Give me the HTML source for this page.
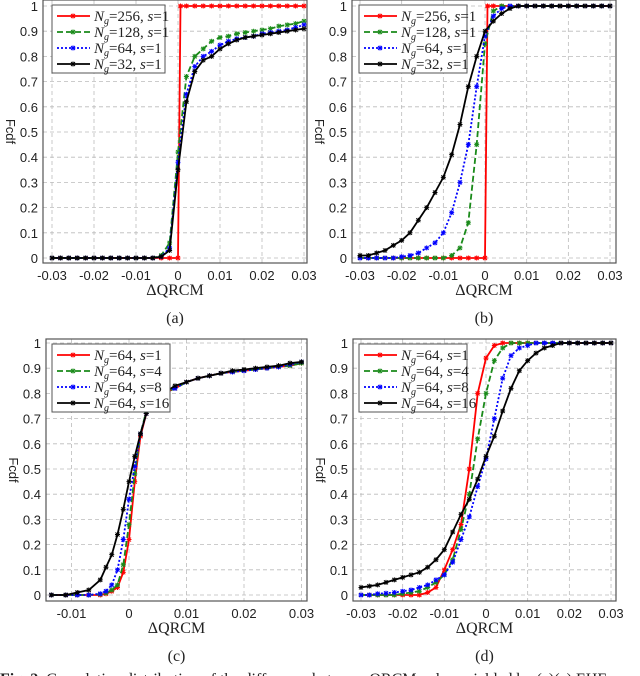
<!DOCTYPE html>
<html><head><meta charset="utf-8"><style>
body{margin:0;background:#fff;width:640px;height:676px;overflow:hidden}
svg{display:block}
.tk{font:13px "Liberation Sans",sans-serif;fill:#222}
.sf{font-family:"Liberation Serif",serif;fill:#222}
</style></head><body>
<svg id="fig" width="640" height="676" viewBox="0 0 640 676" xmlns="http://www.w3.org/2000/svg"></svg>
<script>
// ---- data ----
const gridX = [-0.03,-0.028,-0.026,-0.024,-0.022,-0.02,-0.018,-0.016,-0.014,-0.012,-0.01,-0.008,-0.006,-0.004,-0.002,0,0.002,0.004,0.006,0.008,0.01,0.012,0.014,0.016,0.018,0.02,0.022,0.024,0.026,0.028,0.03];
const stepX = [-0.03,-0.028,-0.026,-0.024,-0.022,-0.02,-0.018,-0.016,-0.014,-0.012,-0.01,-0.008,-0.006,-0.004,-0.002,0,0.0006,0.002,0.004,0.006,0.008,0.01,0.012,0.014,0.016,0.018,0.02,0.022,0.024,0.026,0.028,0.03];
const stepY = [0,0,0,0,0,0,0,0,0,0,0,0,0,0,0,0,1,1,1,1,1,1,1,1,1,1,1,1,1,1,1,1];
const a128 = [0,0,0,0,0,0,0,0,0,0,0,0,0,0.01,0.06,0.42,0.72,0.80,0.83,0.86,0.875,0.88,0.89,0.895,0.9,0.905,0.91,0.92,0.925,0.93,0.94];
const a64  = [0,0,0,0,0,0,0,0,0,0,0,0,0,0.005,0.04,0.38,0.65,0.76,0.80,0.82,0.845,0.86,0.87,0.875,0.88,0.89,0.895,0.9,0.905,0.915,0.925];
const a32  = [0,0,0,0,0,0,0,0,0,0,0,0,0,0.005,0.03,0.35,0.62,0.74,0.785,0.80,0.83,0.85,0.865,0.875,0.88,0.885,0.89,0.895,0.9,0.905,0.91];
const b128 = [0,0,0,0,0,0,0,0,0,0,0,0.01,0.04,0.14,0.45,0.85,0.98,1,1,1,1,1,1,1,1,1,1,1,1,1,1];
const b64  = [0,0,0,0,0,0.005,0.01,0.02,0.04,0.06,0.10,0.18,0.30,0.45,0.68,0.88,0.96,0.99,1,1,1,1,1,1,1,1,1,1,1,1,1];
const b32  = [0.01,0.01,0.02,0.03,0.05,0.07,0.10,0.15,0.20,0.26,0.32,0.41,0.53,0.68,0.80,0.90,0.94,0.97,0.99,1,1,1,1,1,1,1,1,1,1,1,1];
const cX   = [-0.0135,-0.011,-0.009,-0.007,-0.005,-0.004,-0.003,-0.002,-0.001,0,0.001,0.002,0.003,0.004,0.006,0.008,0.010,0.012,0.014,0.016,0.018,0.020,0.022,0.024,0.026,0.028,0.030];
const c1   = [0,0,0,0,0,0.005,0.015,0.03,0.09,0.22,0.45,0.63,0.72,0.77,0.80,0.82,0.845,0.86,0.87,0.88,0.885,0.89,0.895,0.90,0.905,0.91,0.92];
const c4   = [0,0,0,0,0.003,0.008,0.02,0.04,0.12,0.28,0.48,0.64,0.73,0.77,0.80,0.82,0.845,0.86,0.87,0.88,0.885,0.89,0.895,0.90,0.905,0.91,0.92];
const c8   = [0,0,0,0,0.005,0.015,0.04,0.10,0.22,0.38,0.51,0.64,0.72,0.77,0.80,0.82,0.845,0.86,0.87,0.88,0.885,0.89,0.895,0.90,0.905,0.915,0.925];
const c16  = [0,0,0.01,0.02,0.06,0.11,0.16,0.24,0.34,0.45,0.55,0.64,0.72,0.77,0.80,0.83,0.845,0.86,0.87,0.88,0.89,0.895,0.90,0.905,0.91,0.92,0.925];
const d1   = [0,0,0,0,0,0,0,0,0.01,0.03,0.10,0.18,0.28,0.50,0.80,0.94,0.99,1,1,1,1,1,1,1,1,1,1,1,1,1,1];
const d4   = [0,0,0,0,0,0.005,0.01,0.015,0.03,0.05,0.08,0.14,0.26,0.40,0.62,0.80,0.93,0.98,1,1,1,1,1,1,1,1,1,1,1,1,1];
const d8   = [0,0,0.005,0.007,0.01,0.015,0.02,0.03,0.04,0.06,0.08,0.13,0.22,0.31,0.43,0.54,0.70,0.86,0.95,0.98,0.99,1,1,1,1,1,1,1,1,1,1];
const d16  = [0.03,0.035,0.04,0.05,0.06,0.07,0.08,0.09,0.11,0.14,0.18,0.25,0.32,0.38,0.46,0.55,0.63,0.73,0.82,0.89,0.93,0.96,0.98,0.99,1,1,1,1,1,1,1];
const yTicks = [0,0.1,0.2,0.3,0.4,0.5,0.6,0.7,0.8,0.9,1];
const xTicksAB = [-0.03,-0.02,-0.01,0,0.01,0.02,0.03];
const xTicksC = [-0.01,0,0.01,0.02,0.03];
const legAB = ["=256, ","=128, ","=64, ","=32, "];
const legSAB = ["1","1","1","1"];
const legCD = ["=64, ","=64, ","=64, ","=64, "];
const legSCD = ["1","4","8","16"];

const NS="http://www.w3.org/2000/svg";
const svg=document.getElementById('fig');
function mk(tag,attrs,parent){const e=document.createElementNS(NS,tag);for(const k in attrs)e.setAttribute(k,attrs[k]);(parent||svg).appendChild(e);return e;}
const styles=[{c:'#ff0000',d:''},{c:'#1a8a1a',d:'6,3'},{c:'#0000ff',d:'2,2'},{c:'#000000',d:''}];

function panel(P){
  const g=mk('g',{});
  
  
  const X=v=>P.x0+(v-P.v0)*P.k, Y=v=>P.y0-(P.y0-P.y1)*v;
  P.xt.forEach(t=>{const l=mk('line',{x1:X(t),x2:X(t),y1:P.fy0,y2:P.fy1,stroke:'#bbb','stroke-dasharray':'4,3','stroke-width':0.8},g);
    
    const tx=mk('text',{x:X(t),y:P.fy1+17,'text-anchor':'middle',class:'tk'},g);tx.textContent=String(t);
    });
  yTicks.forEach(t=>{const l=mk('line',{x1:P.fx0,x2:P.fx1,y1:Y(t),y2:Y(t),stroke:'#bbb','stroke-dasharray':'4,3','stroke-width':0.8},g);
    
    const tx=mk('text',{x:P.fx0-5,y:Y(t)+5,'text-anchor':'end',class:'tk'},g);tx.textContent=String(t);
    });
  const fr=mk('rect',{x:P.fx0,y:P.fy0,width:P.fx1-P.fx0,height:P.fy1-P.fy0,fill:'none',stroke:'#555','stroke-width':1.2},g);
  
  P.series.forEach((s,i)=>{
    const st=styles[i];
    const pts=s.xs.map((x,j)=>X(x).toFixed(1)+','+Y(s.ys[j]).toFixed(1)).join(' ');
    const pl=mk('polyline',{points:pts,fill:'none',stroke:st.c,'stroke-width':1.8,'stroke-dasharray':st.d},g);
    
    s.xs.forEach((x,j)=>{const cx=X(x),cy=Y(s.ys[j]);
      const m=mk('path',{d:`M${cx-2.5},${cy}h5M${cx},${cy-2.5}v5M${cx-2},${cy-2}l4,4M${cx-2},${cy+2}l4,-4`,stroke:st.c,'stroke-width':1},g);
      });
  });
  const L=P.leg;
  const lb=mk('rect',{x:L.x,y:L.y,width:L.w,height:68,fill:'#fff',stroke:'#555','stroke-width':1},g);
  
  for(let i=0;i<4;i++){const st=styles[i],yy=L.y+11+i*16;
    const ln=mk('line',{x1:L.x+5,x2:L.x+38,y1:yy,y2:yy,stroke:st.c,'stroke-width':1.8,'stroke-dasharray':st.d},g);
    
    const mx=L.x+21;mk('path',{d:`M${mx-2.5},${yy}h5M${mx},${yy-2.5}v5M${mx-2},${yy-2}l4,4M${mx-2},${yy+2}l4,-4`,stroke:st.c,'stroke-width':1},g);
    const t=mk('text',{x:L.x+42,y:yy+5,class:'sf','font-size':15},g);
    
    t.innerHTML=`<tspan font-style="italic">N</tspan><tspan font-style="italic" font-size="10" dy="3">g</tspan><tspan dy="-3">${P.legA[i]}</tspan><tspan font-style="italic">s</tspan>=${P.legS[i]}`;
  }
  const yl=mk('text',{x:0,y:0,class:'tk','font-weight':'bold','font-size':14,transform:`translate(${P.fx0-37},${(P.fy0+P.fy1)/2}) rotate(90)`,'text-anchor':'middle'},g);
  yl.textContent='Fcdf';
  const xl=mk('text',{x:(P.fx0+P.fx1)/2,y:P.fy1+32,'text-anchor':'middle',class:'sf','font-size':16},g);
  xl.textContent='ΔQRCM';
  const cp=mk('text',{x:(P.fx0+P.fx1)/2,y:P.fy1+60,'text-anchor':'middle',class:'sf','font-size':16},g);
  cp.textContent=P.cap;
}
const ser=(xs,arr)=>arr.map(ys=>({xs:ys===stepY?stepX:xs,ys}));
panel({name:'panel-a',cap:'(a)',x0:52,v0:-0.03,k:4200,y0:258,y1:6,fx0:43,fx1:307,fy0:0,fy1:263,xt:xTicksAB,
  series:ser(gridX,[stepY,a128,a64,a32]),leg:{x:52,y:5,w:113},legA:legAB,legS:legSAB});
panel({name:'panel-b',cap:'(b)',x0:360,v0:-0.03,k:4167,y0:258,y1:6,fx0:352,fx1:616,fy0:0,fy1:263,xt:xTicksAB,
  series:ser(gridX,[stepY,b128,b64,b32]),leg:{x:359,y:5,w:108},legA:legAB,legS:legSAB});
panel({name:'panel-c',cap:'(c)',x0:129,v0:0,k:5750,y0:595,y1:343,fx0:46,fx1:307,fy0:339,fy1:601,xt:xTicksC,
  series:ser(cX,[c1,c4,c8,c16]),leg:{x:52,y:344,w:118},legA:legCD,legS:legSCD});
panel({name:'panel-d',cap:'(d)',x0:361,v0:-0.03,k:4167,y0:595,y1:343,fx0:353,fx1:616,fy0:339,fy1:601,xt:xTicksAB,
  series:ser(gridX,[d1,d4,d8,d16]),leg:{x:359,y:344,w:108},legA:legCD,legS:legSCD});
const fc=mk('text',{x:0,y:684,class:'sf','font-size':16});

fc.innerHTML='<tspan font-weight="bold">Fig. 2.</tspan> Cumulative distribution of the difference between QRCM values yielded by (a)(c) EHE';
</script>
</body></html>
